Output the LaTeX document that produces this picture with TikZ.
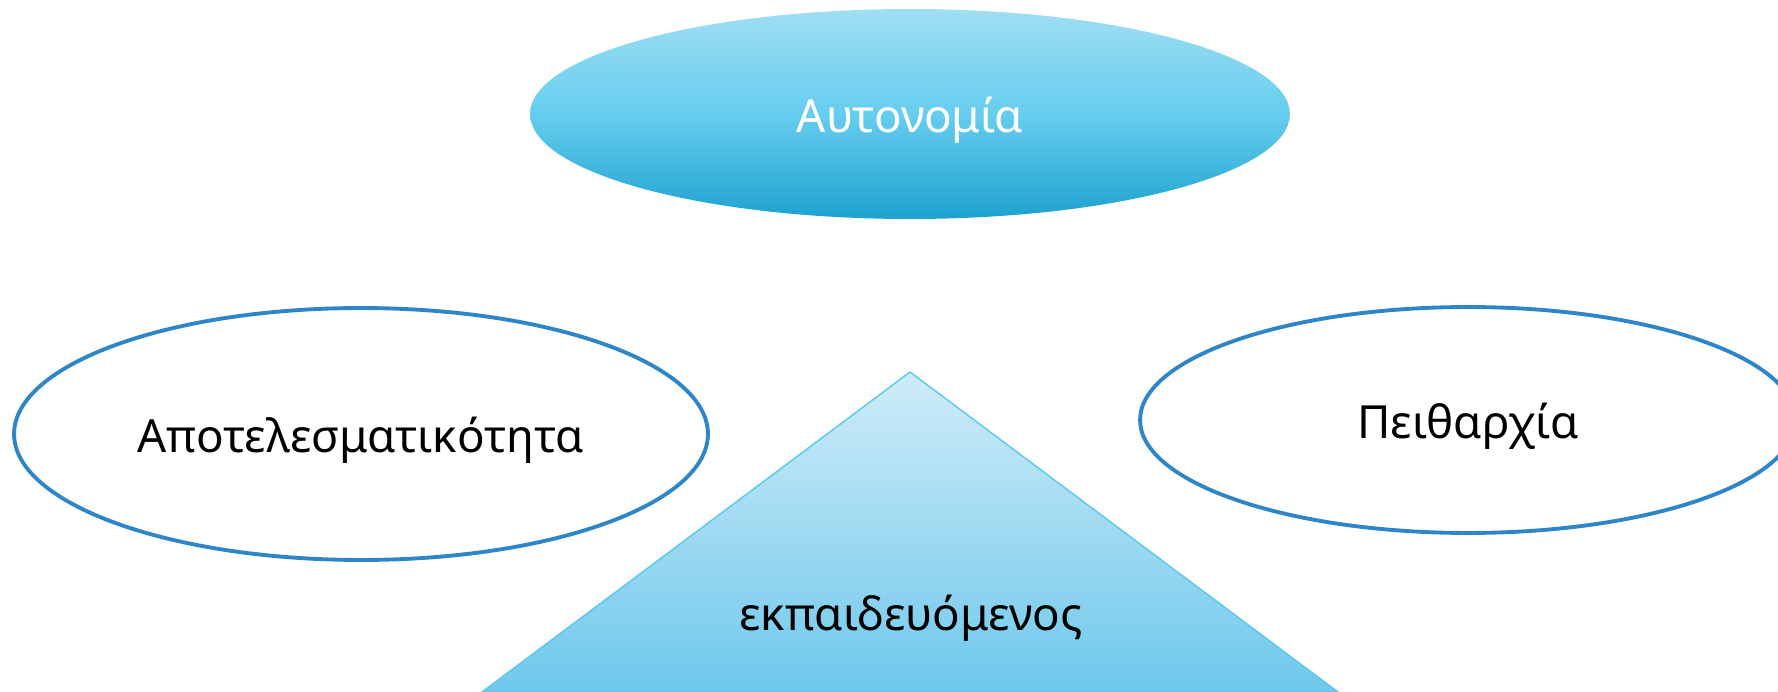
\documentclass[tikz,border=0pt]{standalone}
\usepackage{fontspec}
\setmainfont{Noto Sans}
\usetikzlibrary{shapes.geometric}
\definecolor{ringblue}{RGB}{46,134,200}
\definecolor{skytop}{RGB}{160,222,243}
\definecolor{skymid}{RGB}{102,205,238}
\definecolor{skybot}{RGB}{30,162,208}
\definecolor{tritop}{RGB}{207,236,248}
\definecolor{tribot}{RGB}{110,200,236}
\definecolor{triline}{RGB}{90,200,236}
\begin{document}
\begin{tikzpicture}[x=0.02cm,y=-0.02cm,line width=2.2pt,
  every node/.style={font=\fontsize{26}{31}\selectfont},
  oval/.style={shape=ellipse,inner sep=0pt,text height=0.74cm,text depth=0pt}]
\useasboundingbox (0,0) rectangle (1778,692);
\clip (0,0) rectangle (1778,692);
\draw (910,114) node[oval, top color=skytop, bottom color=skybot, middle color=skymid, text=white, minimum width=15.2cm, minimum height=4.2cm] (a) {Αυτονομία};
\draw (361,434) node[oval, draw=ringblue, fill=white, minimum width=13.88cm, minimum height=5.04cm] (b) {Αποτελεσματικότητα};
\draw (1468,420) node[oval, draw=ringblue, fill=white, minimum width=13.12cm, minimum height=4.52cm] (c) {Πειθαρχία};
\coordinate (t) at (910,372);
\coordinate (l) at (482,692);
\coordinate (r) at (1338,692);
\draw[draw=triline, line width=0.8pt, top color=tritop, bottom color=tribot] (t) -- (l) -- (r) -- cycle;
\draw (911,630) node[anchor=base] (d) {εκπαιδευόμενος};
\end{tikzpicture}
\end{document}
